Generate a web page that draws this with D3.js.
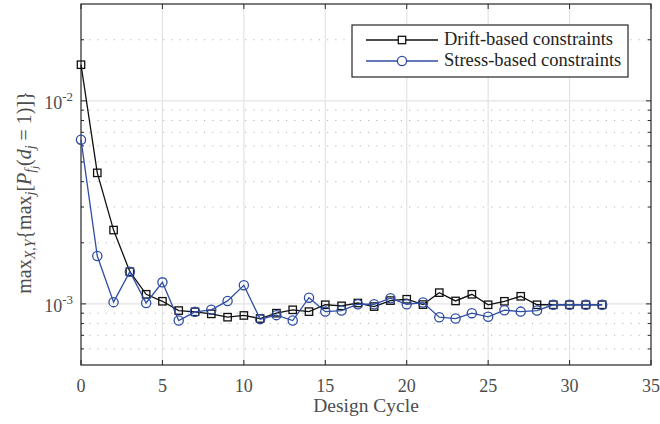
<!DOCTYPE html>
<html>
<head>
<meta charset="utf-8">
<script src="https://cdn.jsdelivr.net/npm/d3@7"></script>
<style>
  body { margin: 0; background: #fff; }
  text { font-family: "Liberation Serif", "DejaVu Serif", serif; }
</style>
</head>
<body>
<div id="chart"></div>
<script>
// data
const cycles = d3.range(0, 33);
const driftVals = [0.01507, 0.00442, 0.00231, 0.00144, 0.001115, 0.00103, 0.000927, 0.000914, 0.000893,
  0.00086, 0.000877, 0.000847, 0.0009, 0.000935, 0.000916, 0.00099, 0.000978, 0.00101, 0.00097,
  0.001038, 0.001054, 0.000992, 0.001136, 0.001034, 0.001115, 0.00099, 0.00103, 0.00109, 0.00099,
  0.00099, 0.00099, 0.00099, 0.00099];
const stressVals = [0.00644, 0.00172, 0.00102, 0.00144, 0.00101, 0.001277, 0.000828, 0.000914, 0.000935,
  0.001034, 0.001235, 0.000841, 0.00088, 0.000828, 0.001073, 0.000916, 0.000927, 0.000996, 0.000996,
  0.001066, 0.000996, 0.001015, 0.00086, 0.000847, 0.0009, 0.000864, 0.000931, 0.000916, 0.000927,
  0.00099, 0.00099, 0.00099, 0.00099];
const seriesNames = ["Drift-based constraints", "Stress-based constraints"];
const xTicks = [0, 5, 10, 15, 20, 25, 30, 35];
const yMajor = [1e-3, 1e-2];
const yMinor = [6e-4, 7e-4, 8e-4, 9e-4, 2e-3, 3e-3, 4e-3, 5e-3, 6e-3, 7e-3, 8e-3, 9e-3, 2e-2];

const W = 660, H = 424;
const m = {top: 4, right: 9, bottom: 59, left: 81};
const iw = W - m.left - m.right, ih = H - m.top - m.bottom;

const axisCol = "#262626", textCol = "#4d4d4d";
const blue = "#2f4da3";

const svg = d3.select("#chart").append("svg")
  .attr("width", W).attr("height", H);
const g = svg.append("g").attr("transform", `translate(${m.left},${m.top})`);

const x = d3.scaleLinear().domain([0, 35]).range([0, iw]);
const y = d3.scaleLog().domain([5e-4, 3e-2]).range([ih, 0]);

// grid
g.selectAll(".vgrid").data(xTicks.slice(1, -1)).join("line")
  .attr("x1", d => x(d)).attr("x2", d => x(d)).attr("y1", 0).attr("y2", ih)
  .attr("stroke", "#e3e3e3").attr("stroke-width", 1.2);
g.selectAll(".hminor").data(yMinor).join("line")
  .attr("x1", 0).attr("x2", iw).attr("y1", d => y(d)).attr("y2", d => y(d))
  .attr("stroke", "#b5b5b5").attr("stroke-width", 1).attr("stroke-dasharray", "1.2,7");
g.selectAll(".hgrid").data(yMajor).join("line")
  .attr("x1", 0).attr("x2", iw).attr("y1", d => y(d)).attr("y2", d => y(d))
  .attr("stroke", "#e3e3e3").attr("stroke-width", 1.2);

// axis box + ticks
const tickLen = 5, minorLen = 3;
xTicks.forEach(t => {
  g.append("line").attr("x1", x(t)).attr("x2", x(t)).attr("y1", ih).attr("y2", ih - tickLen).attr("stroke", axisCol);
  g.append("line").attr("x1", x(t)).attr("x2", x(t)).attr("y1", 0).attr("y2", tickLen).attr("stroke", axisCol);
});
yMajor.forEach(t => {
  g.append("line").attr("x1", 0).attr("x2", tickLen).attr("y1", y(t)).attr("y2", y(t)).attr("stroke", axisCol);
  g.append("line").attr("x1", iw).attr("x2", iw - tickLen).attr("y1", y(t)).attr("y2", y(t)).attr("stroke", axisCol);
});
yMinor.forEach(t => {
  g.append("line").attr("x1", 0).attr("x2", minorLen).attr("y1", y(t)).attr("y2", y(t)).attr("stroke", axisCol);
  g.append("line").attr("x1", iw).attr("x2", iw - minorLen).attr("y1", y(t)).attr("y2", y(t)).attr("stroke", axisCol);
});
g.append("rect").attr("width", iw).attr("height", ih)
  .attr("fill", "none").attr("stroke", axisCol).attr("stroke-width", 1.2);

// tick labels
g.selectAll(".xl").data(xTicks).join("text")
  .attr("x", d => x(d)).attr("y", ih + 27)
  .attr("text-anchor", "middle").attr("fill", textCol).style("font-size", "18px")
  .text(d => d);
const yl = g.selectAll(".yl").data(yMajor).join("text")
  .attr("x", -8).attr("y", d => y(d) + 8)
  .attr("text-anchor", "end").attr("fill", textCol).style("font-size", "18px");
yl.append("tspan").text("10");
yl.append("tspan").attr("dy", -8).style("font-size", "13px").text(d => "-" + Math.round(-Math.log10(d)));

// axis titles
svg.append("text")
  .attr("x", m.left + iw / 2).attr("y", 412)
  .attr("text-anchor", "middle").attr("fill", textCol).style("font-size", "19.5px")
  .text("Design Cycle");

const ylab = svg.append("text")
  .attr("transform", `translate(31,${m.top + ih / 2 + 8}) rotate(-90)`)
  .attr("text-anchor", "middle").attr("fill", textCol).style("font-size", "20px");
const parts = [
  ["max", 0, 20, false], ["X,Y", 4, 14, true], ["{", -4, 20, false],
  ["max", 0, 20, false], ["j", 4, 14, true], ["[", -4, 20, false],
  ["P", 0, 20, true], ["f", 4, 14, true], ["j", 3, 10, true], ["(", -7, 20, false],
  ["d", 0, 20, true], ["j", 4, 14, true], [" = 1)]}", -4, 20, false]
];
parts.forEach(p => {
  ylab.append("tspan").attr("dy", p[1]).style("font-size", p[2] + "px")
    .style("font-style", p[3] ? "italic" : "normal").text(p[0]);
});

// series
const series = [
  {name: seriesNames[0], vals: driftVals, color: "#111", marker: "square"},
  {name: seriesNames[1], vals: stressVals, color: blue, marker: "circle"}
];
const line = d3.line().x((d, i) => x(cycles[i])).y(d => y(d));
series.forEach(s => {
  g.append("path").datum(s.vals).attr("d", line)
    .attr("fill", "none").attr("stroke", s.color).attr("stroke-width", 1.3);
  if (s.marker === "square") {
    g.selectAll(null).data(s.vals).join("rect")
      .attr("x", (d, i) => x(cycles[i]) - 3.7).attr("y", d => y(d) - 3.7)
      .attr("width", 7.4).attr("height", 7.4)
      .attr("fill", "none").attr("stroke", s.color).attr("stroke-width", 1.3);
  } else {
    g.selectAll(null).data(s.vals).join("circle")
      .attr("cx", (d, i) => x(cycles[i])).attr("cy", d => y(d)).attr("r", 4.6)
      .attr("fill", "none").attr("stroke", s.color).attr("stroke-width", 1.3);
  }
});

// legend
const lg = svg.append("g").attr("transform", "translate(352,25)");
lg.append("rect").attr("width", 276).attr("height", 52)
  .attr("fill", "#fff").attr("stroke", axisCol).attr("stroke-width", 1.2);
series.forEach((s, i) => {
  const ly = 15 + i * 21;
  lg.append("line").attr("x1", 14).attr("x2", 86).attr("y1", ly).attr("y2", ly)
    .attr("stroke", s.color).attr("stroke-width", 1.3);
  if (s.marker === "square") {
    lg.append("rect").attr("x", 50 - 3.7).attr("y", ly - 3.7).attr("width", 7.4).attr("height", 7.4)
      .attr("fill", "#fff").attr("stroke", s.color).attr("stroke-width", 1.3);
  } else {
    lg.append("circle").attr("cx", 50).attr("cy", ly).attr("r", 4.6)
      .attr("fill", "#fff").attr("stroke", s.color).attr("stroke-width", 1.3);
  }
  lg.append("text").attr("x", 92).attr("y", ly + 5)
    .attr("fill", "#222").style("font-size", "18.5px").text(s.name);
});
</script>
</body>
</html>
